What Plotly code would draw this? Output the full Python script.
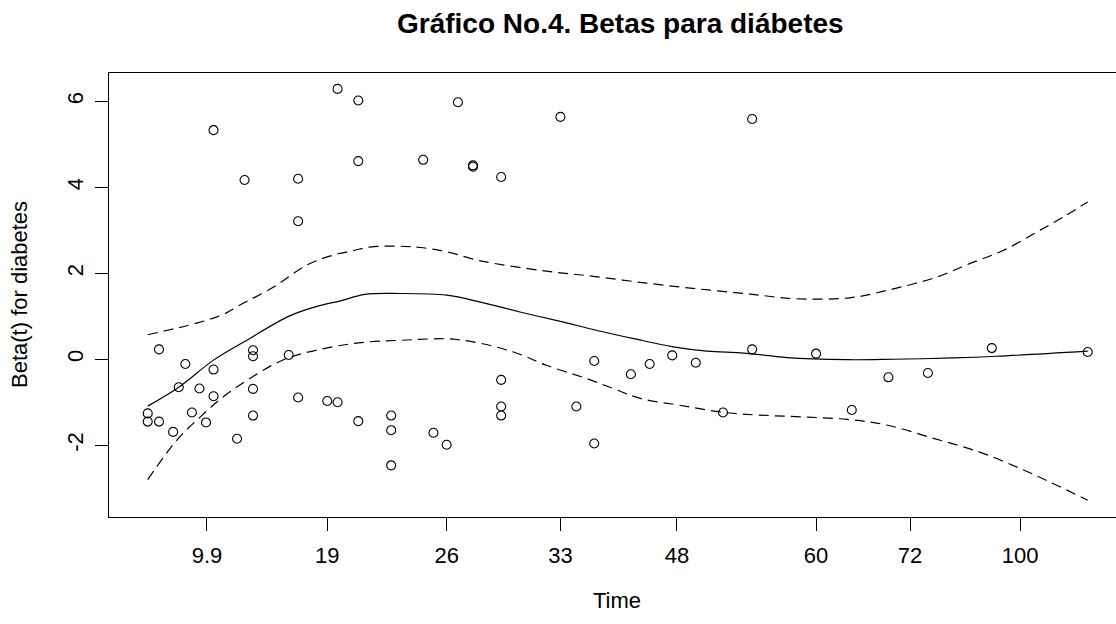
import plotly.graph_objects as go

# Scaled Schoenfeld residuals for diabetes on the KM-transformed time scale
time_km = [0.202, 0.224, 0.070, 0.103, 0.160, 0.224, 0.160, 0.012, 0.040, 0.070,
           0.112, 0.112, 0.150, 0.033, 0.055, 0.070, 0.112, 0.160, 0.191, 0.202,
           0.000, 0.000, 0.012, 0.047, 0.062, 0.112, 0.027, 0.095, 0.224, 0.259,
           0.259, 0.259, 0.330, 0.439, 0.293, 0.346, 0.346, 0.376, 0.304, 0.318,
           0.376, 0.376, 0.376, 0.456, 0.475, 0.475, 0.514, 0.534, 0.558, 0.583,
           0.612, 0.643, 0.643, 0.711, 0.749, 0.788, 0.830, 0.898, 1.000]
beta_resid = [6.29, 6.02, 5.33, 4.17, 4.20, 4.61, 3.21, 0.23, -0.11, -0.24,
              0.21, 0.07, 0.10, -0.65, -0.68, -0.86, -0.69, -0.89, -0.97, -1.00,
              -1.26, -1.45, -1.45, -1.24, -1.47, -1.31, -1.69, -1.85, -1.44, -1.31,
              -1.65, -2.47, 5.98, 5.64, 4.64, 4.48, 4.51, 4.24, -1.71, -1.99,
              -0.48, -1.10, -1.31, -1.10, -0.04, -1.96, -0.35, -0.11, 0.09, -0.08,
              -1.24, 5.59, 0.23, 0.13, -1.18, -0.42, -0.32, 0.26, 0.17]

# Smoothed beta(t)
fit_x = [0.000, 0.033, 0.070, 0.102, 0.151, 0.180, 0.205, 0.231, 0.268, 0.318,
         0.354, 0.396, 0.439, 0.478, 0.517, 0.559, 0.595, 0.630, 0.651, 0.680,
         0.744, 0.793, 0.857, 0.903, 1.000]
fit_y = [-1.09, -0.65, -0.02, 0.40, 1.01, 1.23, 1.36, 1.51, 1.53, 1.49,
         1.33, 1.10, 0.88, 0.67, 0.48, 0.29, 0.19, 0.15, 0.11, 0.04,
         -0.01, 0.00, 0.03, 0.07, 0.19]

# Upper confidence band
upper_x = [0.000, 0.052, 0.080, 0.098, 0.134, 0.169, 0.197, 0.219, 0.236, 0.268,
           0.290, 0.318, 0.354, 0.424, 0.474, 0.531, 0.584, 0.630, 0.651, 0.687,
           0.747, 0.786, 0.839, 0.875, 0.910, 0.946, 0.974, 1.000]
upper_y = [0.57, 0.84, 1.04, 1.26, 1.68, 2.19, 2.42, 2.53, 2.61, 2.63,
           2.60, 2.50, 2.29, 2.05, 1.93, 1.77, 1.64, 1.54, 1.49, 1.41,
           1.43, 1.60, 1.91, 2.23, 2.53, 2.96, 3.31, 3.66]

# Lower confidence band
lower_x = [0.000, 0.031, 0.056, 0.080, 0.112, 0.148, 0.197, 0.233, 0.268, 0.329,
           0.389, 0.424, 0.467, 0.495, 0.524, 0.566, 0.619, 0.744, 0.786, 0.836,
           0.885, 0.928, 0.963, 1.000]
lower_y = [-2.80, -1.88, -1.34, -0.88, -0.40, 0.02, 0.29, 0.40, 0.44, 0.46,
           0.17, -0.14, -0.45, -0.68, -0.91, -1.07, -1.25, -1.40, -1.53, -1.84,
           -2.16, -2.54, -2.89, -3.28]

# Time axis: positions on the transformed scale and their labels
time_tick_pos = [0.063, 0.191, 0.318, 0.439, 0.563, 0.711, 0.811, 0.928]
time_tick_text = ["9.9", "19", "26", "33", "48", "60", "72", "100"]
beta_ticks = [-2, 0, 2, 4, 6]

FONT = "Liberation Sans, Arial, Helvetica, sans-serif"
W, H = 1116, 624
L, R, T, B = 109, 0, 73, 107

fig = go.Figure()
fig.add_trace(go.Scatter(x=time_km, y=beta_resid, mode="markers",
                         marker=dict(symbol="circle-open", size=9, color="black",
                                     line=dict(width=1.1, color="black")),
                         showlegend=False))
fig.add_trace(go.Scatter(x=fit_x, y=fit_y, mode="lines", line_shape="spline",
                         line=dict(color="black", width=1.2), showlegend=False))
for bx, by in ((upper_x, upper_y), (lower_x, lower_y)):
    fig.add_trace(go.Scatter(x=bx, y=by, mode="lines", line_shape="spline",
                             line=dict(color="black", width=1.2, dash="10px,6px"),
                             showlegend=False))

pw = W - L - R
ph = H - T - B

def px_x(p):
    return (p - L) / pw

def px_y(p):
    return (H - B - p) / ph

fig.update_layout(
    width=W, height=H,
    margin=dict(l=L, r=R, t=T, b=B),
    paper_bgcolor="white", plot_bgcolor="white",
    font=dict(family=FONT, color="black", size=22),
    xaxis=dict(range=[-0.0412, 1.0301], showgrid=False, zeroline=False,
               showline=True, mirror=True, linecolor="black", linewidth=1,
               ticks="outside", ticklen=13, tickcolor="black", tickwidth=1,
               tickvals=time_tick_pos, ticktext=time_tick_text,
               tickfont=dict(size=22), ticklabelstandoff=6),
    yaxis=dict(range=[-3.67, 6.66], showgrid=False, zeroline=False,
               showline=True, mirror=False, linecolor="black", linewidth=1,
               ticks="outside", ticklen=13, tickcolor="black", tickwidth=1,
               tickvals=beta_ticks, ticktext=[str(v) for v in beta_ticks],
               tickangle=-90, tickfont=dict(size=22), ticklabelstandoff=3),
    annotations=[
        dict(text="<b>Gráfico No.4. Betas para diábetes</b>", xref="paper", yref="paper",
             x=px_x(620), y=px_y(24), showarrow=False, font=dict(size=28),
             xanchor="center", yanchor="middle"),
        dict(text="Time", xref="paper", yref="paper", x=px_x(617), y=px_y(600),
             showarrow=False, font=dict(size=22), xanchor="center", yanchor="middle"),
        dict(text="Beta(t) for diabetes", xref="paper", yref="paper", x=px_x(19),
             y=px_y(295), showarrow=False, font=dict(size=22), textangle=-90,
             xanchor="center", yanchor="middle"),
    ],
)

fig.write_html("out.html")
